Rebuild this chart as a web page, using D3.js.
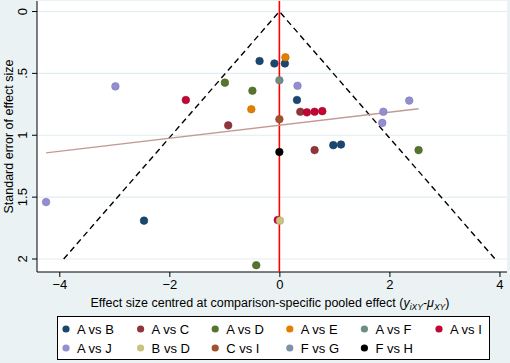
<!DOCTYPE html>
<html>
<head>
<meta charset="utf-8">
<script src="https://cdn.jsdelivr.net/npm/d3@7"></script>
<style>
  body { margin: 0; background: #eaf2f3; }
  svg { display: block; font-family: "Liberation Sans", Arial, sans-serif; }
</style>
</head>
<body>
<svg id="chart" width="510" height="363"></svg>
<script>
// comparisons (legend order) and their colours
var comparisons = ["A vs B", "A vs C", "A vs D", "A vs E", "A vs F", "A vs I",
                   "A vs J", "B vs D", "C vs I", "F vs G", "F vs H"];
var colors = ["#1a476f", "#90353b", "#55752f", "#e37e00", "#6e8e84", "#c10534",
              "#938dd2", "#cac27e", "#a0522d", "#7b92a8", "#000000"];

// study points: comparison, centred effect, standard error
var pointGroup = ["A vs B", "A vs B", "A vs B", "A vs E", "A vs D", "A vs F", "A vs J", "A vs D",
                  "A vs I", "A vs B", "A vs E", "A vs C", "A vs I", "A vs I", "A vs I", "C vs I",
                  "A vs C", "F vs H", "A vs C", "A vs B", "A vs B", "A vs I", "B vs D", "A vs D",
                  "A vs J", "A vs J", "A vs J", "A vs D", "A vs J", "A vs J", "A vs B"];
var pointX = [-0.36, -0.09, 0.10, 0.11, -0.99, 0.0, 0.33, -0.49,
              -1.70, 0.32, -0.51, 0.38, 0.50, 0.64, 0.78, 0.0,
              -0.93, 0.0, 0.64, 0.98, 1.12, -0.03, 0.01, -0.42,
              2.36, 1.89, 1.87, 2.53, -2.98, -4.24, -2.46];
var pointSE = [0.40, 0.42, 0.42, 0.37, 0.575, 0.556, 0.60, 0.64,
               0.715, 0.715, 0.79, 0.81, 0.815, 0.81, 0.805, 0.87,
               0.92, 1.135, 1.12, 1.08, 1.075, 1.685, 1.69, 2.05,
               0.72, 0.81, 0.90, 1.12, 0.605, 1.54, 1.69];

var xTicks = [-4, -2, 0, 2, 4];
var yTicks = [0, 0.5, 1, 1.5, 2];
var yTickLabels = ["0", ".5", "1", "1.5", "2"];

// small-study regression line: SE = a + b * effect
var regIntercept = 0.919;
var regSlope = -0.0527;
var funnelZ = 1.96;
var funnelMaxSE = 2;

var svg = d3.select("#chart");
var pLeft = 37, pRight = 507, pTop = 1, pBottom = 272;

var x = d3.scaleLinear().domain([-4.405, 4.137]).range([pLeft, pRight]);
var y = d3.scaleLinear().domain([-0.085, 2.105]).range([pTop, pBottom]);
var color = d3.scaleOrdinal().domain(comparisons).range(colors);

svg.append("rect")
    .attr("x", pLeft).attr("y", pTop)
    .attr("width", pRight - pLeft).attr("height", pBottom - pTop)
    .attr("fill", "#fff");

// gridlines
svg.append("g").selectAll("line")
    .data(yTicks).enter().append("line")
    .attr("x1", pLeft).attr("x2", pRight)
    .attr("y1", function (d) { return y(d); })
    .attr("y2", function (d) { return y(d); })
    .attr("stroke", "#e1eef1").attr("stroke-width", 1.2);

// y axis
var yAxis = d3.axisLeft(y).tickValues(yTicks).tickSize(5)
    .tickFormat(function (d, i) { return yTickLabels[i]; });
var gy = svg.append("g").attr("transform", "translate(" + pLeft + ",0)").call(yAxis);
gy.select(".domain").attr("stroke", "#000").attr("d", "M0," + pTop + "V" + pBottom);
gy.selectAll("line").attr("stroke", "#000");
gy.selectAll(".tick").attr("transform", null);
gy.selectAll(".tick line")
    .attr("y1", function (d) { return y(d); }).attr("y2", function (d) { return y(d); });
gy.selectAll(".tick text")
    .attr("font-size", 13).attr("fill", "#000")
    .attr("transform", function (d) { return "translate(-15," + y(d) + ") rotate(-90)"; })
    .attr("x", 0).attr("y", 0).attr("dy", "0.35em")
    .attr("text-anchor", "middle");

// x axis
var xAxis = d3.axisBottom(x).tickValues(xTicks).tickSize(5);
var gx = svg.append("g").attr("transform", "translate(0," + pBottom + ")").call(xAxis);
gx.select(".domain").attr("stroke", "#000").attr("d", "M" + pLeft + ",0H" + pRight);
gx.selectAll("line").attr("stroke", "#000");
gx.selectAll("text").attr("font-size", 13).attr("fill", "#000").attr("y", 8);

// axis titles
svg.append("text")
    .attr("transform", "translate(9," + ((pTop + pBottom) / 2) + ") rotate(-90)")
    .attr("text-anchor", "middle").attr("dy", "0.35em")
    .attr("font-size", 12.5).text("Standard error of effect size");

var xt = svg.append("text")
    .attr("x", (pLeft + pRight) / 2 - 2).attr("y", 307)
    .attr("text-anchor", "middle").attr("font-size", 12.5);
xt.append("tspan").text("Effect size centred at comparison-specific pooled effect (");
xt.append("tspan").attr("font-style", "italic").text("y");
xt.append("tspan").attr("font-style", "italic").attr("font-size", 8.5).attr("dy", 3).text("iXY");
xt.append("tspan").attr("dy", -3).text("-");
xt.append("tspan").attr("font-style", "italic").text("\u03bc");
xt.append("tspan").attr("font-style", "italic").attr("font-size", 8.5).attr("dy", 3).text("XY");
xt.append("tspan").attr("dy", -3).text(")");

// funnel (pseudo 95% limits)
var line = d3.line().x(function (d) { return x(d[0]); }).y(function (d) { return y(d[1]); });
svg.append("path")
    .attr("d", line([[-funnelZ * funnelMaxSE, funnelMaxSE], [0, 0], [funnelZ * funnelMaxSE, funnelMaxSE]]))
    .attr("fill", "none").attr("stroke", "#000").attr("stroke-width", 1.4)
    .attr("stroke-dasharray", "6,4");

// null line
svg.append("line")
    .attr("x1", x(0)).attr("x2", x(0)).attr("y1", pTop).attr("y2", pBottom)
    .attr("stroke", "#ff0000").attr("stroke-width", 1.6);

// regression line over the observed range
var xr = d3.extent(pointX);
svg.append("path")
    .attr("d", line(xr.map(function (v) { return [v, regIntercept + regSlope * v]; })))
    .attr("stroke", "#c09b96").attr("stroke-width", 1.4).attr("fill", "none");

// points
svg.append("g").selectAll("circle")
    .data(pointX).enter().append("circle")
    .attr("cx", function (d) { return x(d); })
    .attr("cy", function (d, i) { return y(pointSE[i]); })
    .attr("r", 3.8)
    .attr("fill", function (d, i) { return color(pointGroup[i]); })
    .attr("stroke", function (d, i) { return d3.color(color(pointGroup[i])).darker(0.4); })
    .attr("stroke-width", 0.6);

// legend
var lg = svg.append("g");
lg.append("rect")
    .attr("x", 57.5).attr("y", 316.5).attr("width", 432).attr("height", 43)
    .attr("fill", "#fff").attr("stroke", "#000").attr("stroke-width", 1);
var colX = d3.scalePoint().domain(d3.range(6)).range([66, 439]);
var item = lg.selectAll("g.item")
    .data(comparisons).enter().append("g")
    .attr("transform", function (d, i) {
      return "translate(" + colX(i % 6) + "," + (i < 6 ? 329 : 348) + ")";
    });
item.append("circle").attr("r", 3.6)
    .attr("fill", function (d) { return color(d); });
item.append("text").attr("x", 11).attr("dy", "0.35em")
    .attr("font-size", 13).text(function (d) { return d; });
</script>
</body>
</html>
